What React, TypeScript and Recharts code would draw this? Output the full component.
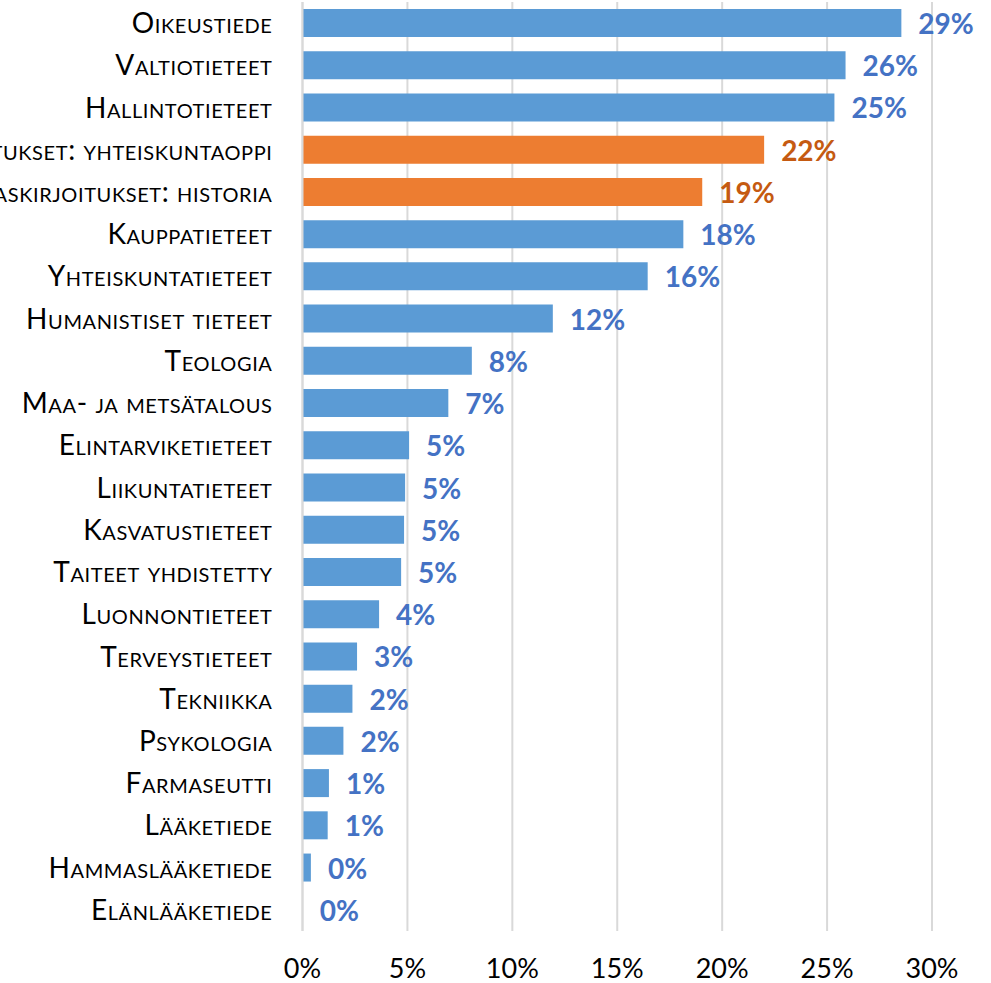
import { BarChart, Bar, XAxis, YAxis, CartesianGrid, Cell, LabelList } from 'recharts'

const categories = [
  'Oikeustiede',
  'Valtiotieteet',
  'Hallintotieteet',
  'Ylioppilaskirjoitukset: yhteiskuntaoppi',
  'Ylioppilaskirjoitukset: historia',
  'Kauppatieteet',
  'Yhteiskuntatieteet',
  'Humanistiset tieteet',
  'Teologia',
  'Maa- ja metsätalous',
  'Elintarviketieteet',
  'Liikuntatieteet',
  'Kasvatustieteet',
  'Taiteet yhdistetty',
  'Luonnontieteet',
  'Terveystieteet',
  'Tekniikka',
  'Psykologia',
  'Farmaseutti',
  'Lääketiede',
  'Hammaslääketiede',
  'Elänlääketiede',
]

const shares = [
  28.54, 25.88, 25.35, 22.0, 19.05, 18.15, 16.45, 11.93, 8.07, 6.95, 5.08,
  4.89, 4.84, 4.7, 3.65, 2.6, 2.38, 1.95, 1.26, 1.2, 0.4, 0.01,
]

// ylioppilaskirjoitukset highlighted in orange
const highlighted = [false, false, false, true, true, false, false, false, false, false, false,
  false, false, false, false, false, false, false, false, false, false, false]

const xTicks = [0, 5, 10, 15, 20, 25, 30]

const data = categories.map((name, i) => ({ name, value: shares[i], hl: highlighted[i] }))

const FONT = 'Lato, "Open Sans", sans-serif'

function CategoryTick(props: any) {
  const { x, y, payload } = props
  return (
    <text
      x={x}
      y={y}
      dy={10}
      textAnchor="end"
      fill="#000"
      style={{ fontFamily: FONT, fontSize: 28, fontVariant: 'small-caps', letterSpacing: 0.6 }}
    >
      {payload.value}
    </text>
  )
}

function AxisTick(props: any) {
  const { x, y, payload } = props
  return (
    <text x={x} y={y} dy={47} textAnchor="middle" fill="#000" style={{ fontFamily: FONT, fontSize: 27 }}>
      {payload.value}%
    </text>
  )
}

function ValueLabel(props: any) {
  const { x, y, width, height, index } = props
  const hl = data[index].hl
  return (
    <text
      x={x + width + 17}
      y={y + height / 2}
      dy={11}
      textAnchor="start"
      fill={hl ? '#C55A11' : '#4472C4'}
      style={{ fontFamily: FONT, fontSize: 28, fontWeight: 700 }}
    >
      {Math.round(data[index].value)}%
    </text>
  )
}

export default function App() {
  return (
    <div style={{ position: 'absolute', left: 0, top: 0, width: 991, height: 983, background: '#fff' }}>
      <BarChart
        layout="vertical"
        width={991}
        height={983}
        data={data}
        margin={{ top: 2, right: 59, bottom: 0, left: 0 }}
        barSize={28}
      >
        <CartesianGrid horizontal={false} stroke="#d9d9d9" strokeWidth={2} />
        <XAxis
          type="number"
          domain={[0, 30]}
          ticks={xTicks}
          axisLine={false}
          tickLine={false}
          tickSize={0}
          tickMargin={0}
          height={52}
          tick={<AxisTick />}
        />
        <YAxis
          type="category"
          dataKey="name"
          width={302.5}
          axisLine={{ stroke: '#d9d9d9', strokeWidth: 2 }}
          tickLine={false}
          tickSize={0}
          tickMargin={30}
          interval={0}
          tick={<CategoryTick />}
        />
        <Bar dataKey="value" isAnimationActive={false}>
          {data.map((d) => (
            <Cell key={d.name} fill={d.hl ? '#ED7D31' : '#5B9BD5'} />
          ))}
          <LabelList dataKey="value" content={<ValueLabel />} />
        </Bar>
      </BarChart>
    </div>
  )
}
